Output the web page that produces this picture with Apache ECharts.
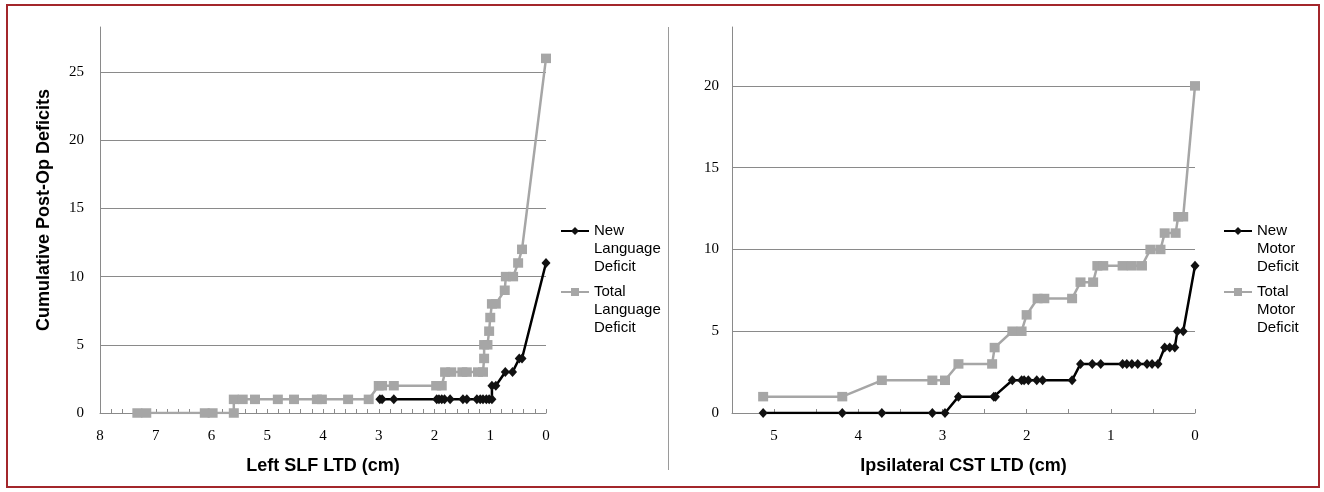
<!DOCTYPE html>
<html>
<head>
<meta charset="utf-8">
<script src="https://cdn.jsdelivr.net/npm/echarts@6/dist/echarts.min.js"></script>
<style>
html,body{margin:0;padding:0;background:#fff;}
#c{width:1324px;height:492px;}
</style>
</head>
<body>
<div id="c"></div>
<script>
// ---- Left panel: Left SLF LTD (cm) ----
const langNewX   = [2.98,2.94,2.73,1.96,1.92,1.87,1.82,1.72,1.49,1.42,1.24,1.18,1.13,1.07,1.02,0.97,0.97,0.90,0.73,0.60,0.48,0.43,0];
const langNewY   = [1,1,1,1,1,1,1,1,1,1,1,1,1,1,1,1,2,2,3,3,4,4,11];
const langTotalX = [7.33,7.17,6.12,5.98,5.6,5.6,5.44,5.22,4.81,4.52,4.11,4.02,3.55,3.18,3.0,2.94,2.73,1.97,1.87,1.81,1.70,1.50,1.42,1.22,1.13,1.11,1.11,1.05,1.02,1.00,0.97,0.90,0.74,0.72,0.59,0.50,0.43,0];
const langTotalY = [0,0,0,0,0,1,1,1,1,1,1,1,1,1,2,2,2,2,2,3,3,3,3,3,3,4,5,5,6,7,8,8,9,10,10,11,12,26];
// ---- Right panel: Ipsilateral CST LTD (cm) ----
const motorNewX   = [5.13,4.19,3.72,3.12,2.97,2.81,2.39,2.37,2.17,2.06,2.03,1.98,1.88,1.81,1.46,1.36,1.22,1.12,0.86,0.81,0.75,0.68,0.57,0.51,0.44,0.36,0.30,0.24,0.21,0.14,0];
const motorNewY   = [0,0,0,0,0,1,1,1,2,2,2,2,2,2,2,3,3,3,3,3,3,3,3,3,3,4,4,4,5,5,9];
const motorTotalX = [5.13,4.19,3.72,3.12,2.97,2.81,2.41,2.38,2.17,2.06,2.00,1.87,1.79,1.46,1.36,1.21,1.16,1.09,0.86,0.75,0.63,0.53,0.41,0.36,0.23,0.20,0.14,0];
const motorTotalY = [1,1,2,2,2,3,3,4,5,5,6,7,7,7,8,8,9,9,9,9,9,10,10,11,11,12,12,20];

const leftXTicks = {min:0, max:8, interval:0.2};
const rightXTicks = {min:0, max:5.5, interval:0.5};
const leftYTicks = {min:0, max:28.3, interval:5};
const rightYTicks = {min:0, max:23.6, interval:5};

const names = {
  langNew: 'New\nLanguage\nDeficit',
  langTotal: 'Total\nLanguage\nDeficit',
  motorNew: 'New\nMotor\nDeficit',
  motorTotal: 'Total\nMotor\nDeficit'
};

const zip = (xs, ys) => xs.map((x, i) => [x, ys[i]]);

const AX = '#8a8a8a';
const GRAY = '#a6a6a6';
const serif = 'Liberation Serif, Times New Roman, serif';
const sans = 'Liberation Sans, Arial, sans-serif';

function xAxis(gi, t, name) {
  return {
    type:'value', gridIndex:gi, inverse:true, min:t.min, max:t.max, interval:t.interval,
    name:name, nameLocation:'middle', nameGap:44,
    nameTextStyle:{fontFamily:sans, fontWeight:'bold', fontSize:18, color:'#000'},
    axisLine:{show:true, onZero:false, lineStyle:{color:AX, width:1}},
    axisTick:{show:true, inside:true, length:4, lineStyle:{color:AX}},
    minorTick:{show:false},
    splitLine:{show:false},
    axisLabel:{color:'#000', fontFamily:serif, fontSize:15, margin:16,
      formatter: v => (Math.abs(v - Math.round(v)) > 1e-6) ? '' : String(Math.round(v))}
  };
}
function yAxis(gi, t, name) {
  return {
    type:'value', gridIndex:gi, min:t.min, max:t.max, interval:t.interval,
    name:name, nameLocation:'middle', nameGap:47,
    nameTextStyle:{fontFamily:sans, fontWeight:'bold', fontSize:18, color:'#000', padding:[0,0,0,20]},
    axisLine:{show:true, onZero:false, lineStyle:{color:AX, width:1}},
    axisTick:{show:false},
    splitLine:{show:true, showMinLine:false, showMaxLine:false, lineStyle:{color:AX, width:1}},
    axisLabel:{color:'#000', fontFamily:serif, fontSize:15, margin:gi === 0 ? 16 : 13, showMaxLabel:false}
  };
}
function blackSeries(name, xi, data) {
  return {name, type:'line', xAxisIndex:xi, yAxisIndex:xi, data, z:4,
    symbol:'diamond', symbolSize:[9,10], showSymbol:true,
    lineStyle:{color:'#000', width:2.5}, itemStyle:{color:'#111'}, animation:false};
}
function graySeries(name, xi, data) {
  return {name, type:'line', xAxisIndex:xi, yAxisIndex:xi, data, z:3,
    symbol:'rect', symbolSize:[10,9.5], showSymbol:true,
    lineStyle:{color:GRAY, width:2.5}, itemStyle:{color:GRAY}, animation:false};
}
function legend(name, left, top) {
  return {data:[name], left, top, orient:'vertical', itemWidth:28, itemHeight:10, itemGap:0,
    selectedMode:false, padding:0,
    formatter: n => '\n\n' + n,
    textStyle:{fontFamily:sans, fontSize:15, color:'#000', lineHeight:18}};
}

const chart = echarts.init(document.getElementById('c'), null, {renderer:'canvas'});
chart.setOption({
  backgroundColor:'#fff',
  animation:false,
  grid:[
    {left:100, top:27, width:446, height:386},
    {left:732, top:27, width:463, height:386}
  ],
  xAxis:[ xAxis(0, leftXTicks, 'Left SLF LTD (cm)'), xAxis(1, rightXTicks, 'Ipsilateral CST LTD (cm)') ],
  yAxis:[ yAxis(0, leftYTicks, 'Cumulative Post-Op Deficits'), yAxis(1, rightYTicks, '') ],
  legend:[
    legend(names.langNew, 560, 186),
    legend(names.langTotal, 560, 247),
    legend(names.motorNew, 1223, 186),
    legend(names.motorTotal, 1223, 247)
  ],
  series:[
    graySeries(names.langTotal, 0, zip(langTotalX, langTotalY)),
    blackSeries(names.langNew, 0, zip(langNewX, langNewY)),
    graySeries(names.motorTotal, 1, zip(motorTotalX, motorTotalY)),
    blackSeries(names.motorNew, 1, zip(motorNewX, motorNewY))
  ],
  graphic:[
    {type:'rect', shape:{x:7, y:5, width:1312, height:482}, style:{fill:'none', stroke:'#a3262b', lineWidth:2}, silent:true},
    {type:'line', shape:{x1:668.5, y1:27, x2:668.5, y2:470}, style:{stroke:'#9a9a9a', lineWidth:1}, silent:true}
  ]
});
</script>
</body>
</html>
